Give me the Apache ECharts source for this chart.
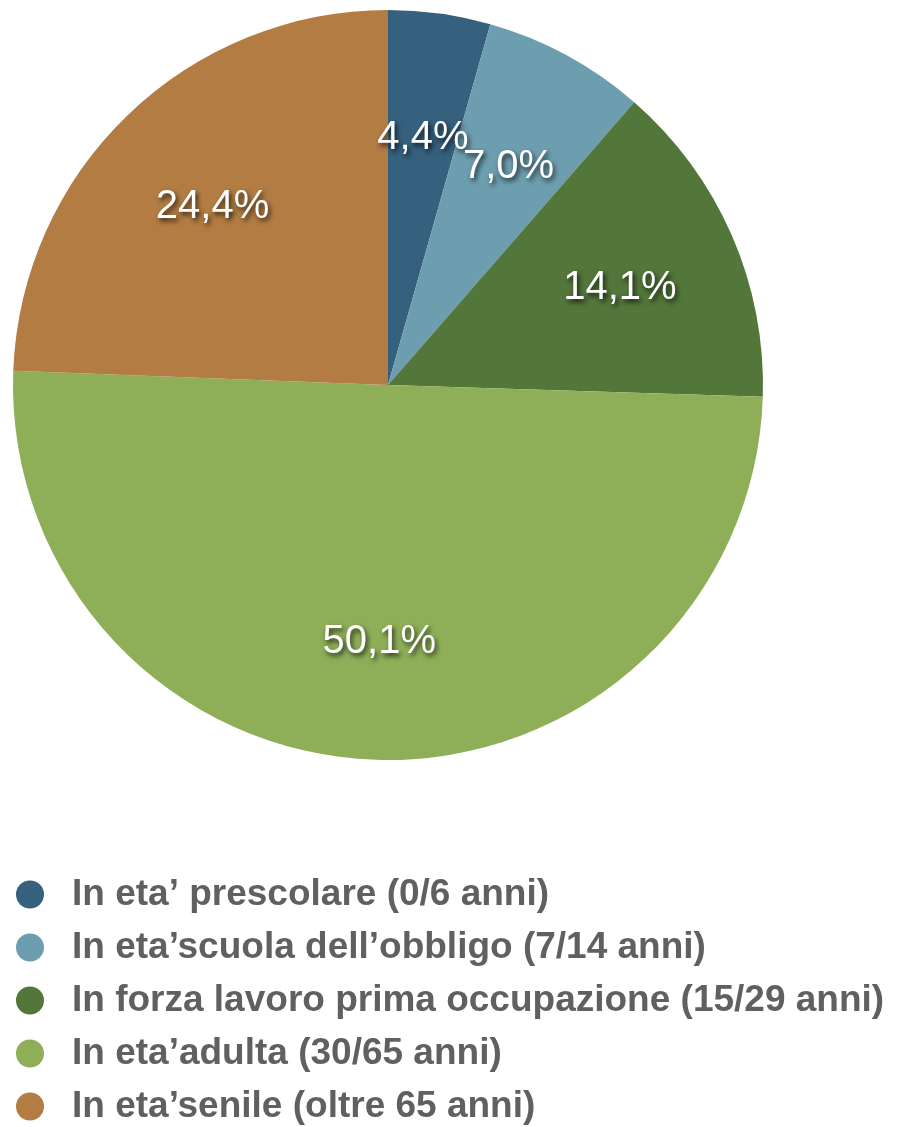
<!DOCTYPE html>
<html>
<head>
<meta charset="utf-8">
<script src="https://cdn.jsdelivr.net/npm/echarts@6/dist/echarts.min.js"></script>
<style>
  html, body { margin: 0; padding: 0; background: #fff; }
  #chart { width: 897px; height: 1127px; }
</style>
</head>
<body>
<div id="chart"></div>
<script>
const categories = [
  "In eta’ prescolare (0/6 anni)",
  "In eta’scuola dell’obbligo (7/14 anni)",
  "In forza lavoro prima occupazione (15/29 anni)",
  "In eta’adulta (30/65 anni)",
  "In eta’senile (oltre 65 anni)"
];
const values = [4.4, 7.0, 14.1, 50.1, 24.4];
const colors = ['#35607E', '#6D9EAF', '#53763A', '#8EAF58', '#B27C43'];

const pieData = categories.map((name, i) => ({ name, value: values[i] }));

const chart = echarts.init(document.getElementById('chart'));
chart.setOption({
  animation: false,
  color: colors,
  legend: {
    orient: 'vertical',
    left: 16,
    top: 876,
    height: 260,
    padding: 0,
    icon: 'circle',
    itemWidth: 28,
    itemHeight: 28,
    itemGap: 16,
    data: categories,
    textStyle: {
      fontFamily: 'Liberation Sans, Arial, sans-serif',
      fontWeight: 'bold',
      fontSize: 37,
      color: '#606060',
      padding: [0, 0, 0, 23]
    }
  },
  series: [
    {
      // the visible pie
      type: 'pie',
      center: [388, 385],
      radius: [0, 375],
      startAngle: 90,
      clockwise: true,
      silent: true,
      label: { show: false },
      labelLine: { show: false },
      data: pieData
    },
    {
      // transparent ring used only to place labels at 2/3 of the radius
      type: 'pie',
      center: [388, 385],
      radius: [125, 375],
      startAngle: 90,
      clockwise: true,
      silent: true,
      avoidLabelOverlap: false,
      legendHoverLink: false,
      itemStyle: { color: 'rgba(0,0,0,0)' },
      labelLayout: { hideOverlap: false },
      label: {
        show: true,
        position: 'inside',
        offset: [0, 4],
        formatter: p => p.value.toFixed(1).replace('.', ',') + '%',
        fontFamily: 'Liberation Sans, Arial, sans-serif',
        fontSize: 40,
        color: '#fff',
        textShadowColor: 'rgba(0,0,0,0.75)',
        textShadowBlur: 5,
        textShadowOffsetX: 2,
        textShadowOffsetY: 3
      },
      labelLine: { show: false },
      data: pieData
    }
  ]
});
</script>
</body>
</html>
